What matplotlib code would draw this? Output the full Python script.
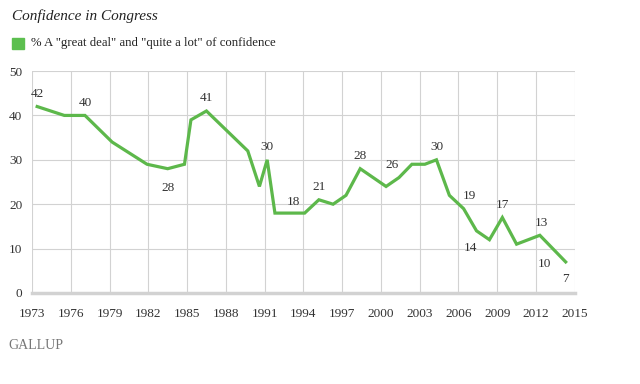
import matplotlib
matplotlib.use("Agg")
import matplotlib.pyplot as plt
from matplotlib.patches import Rectangle

# survey dates (fractional year) and % great deal / quite a lot
years = [1973.4, 1975.5, 1977.1, 1979.2, 1981.9, 1983.5, 1984.8, 1985.3,
         1986.5, 1989.7, 1990.6, 1991.2, 1991.8, 1993.2, 1994.1, 1995.2,
         1996.3, 1997.3, 1998.4, 2000.4, 2001.4, 2002.4, 2003.4, 2004.3,
         2005.3, 2006.4, 2007.4, 2008.4, 2009.4, 2010.5, 2011.4, 2012.3,
         2013.3, 2014.3]
values = [42, 40, 40, 34, 29, 28, 29, 39, 41, 32, 24, 30, 18, 18, 18, 21,
          20, 22, 28, 24, 26, 29, 29, 30, 22, 19, 14, 12, 17, 11, 12, 13,
          10, 7]

# labelled points: index into the series, offset in points
lab_idx = [0, 2, 5, 8, 11, 13, 15, 18, 20, 23, 25, 26, 28, 31, 32, 33]
lab_off = [(0, 9), (0, 9), (0, -14), (0, 9), (0, 9), (0, 8), (0, 9), (0, 9),
           (-5, 9), (0, 9), (4, 9), (-4, -12), (0, 9), (1, 9), (-6, -11),
           (0, -12)]

xticks = list(range(1973, 2016, 3))
yticks = [0, 10, 20, 30, 40, 50]

green = '#5DB84B'
txt = '#333333'
serif = ['Liberation Serif', 'DejaVu Serif']

fig = plt.figure(figsize=(6.4, 3.84), dpi=100)
ax = fig.add_axes([0.05, 0.237, 0.848, 0.578])

ax.plot(years, values, color=green, lw=2.3, solid_joinstyle='miter', zorder=3)

for i, (dx, dy) in zip(lab_idx, lab_off):
    ax.annotate(str(values[i]), (years[i], values[i]), xytext=(dx, dy),
                textcoords='offset points', ha='center', va='center',
                fontsize=9.5, family=serif, color=txt)

ax.set_xlim(1973, 2015)
ax.set_ylim(0, 50)
ax.set_xticks(xticks)
ax.set_yticks(yticks)
ax.set_xticklabels([str(t) for t in xticks], family=serif, fontsize=9.5, color=txt)
ax.set_yticklabels([str(t) for t in yticks], family=serif, fontsize=9.5, color=txt)
ax.tick_params(length=0)
ax.tick_params(axis='x', pad=11)
ax.tick_params(axis='y', pad=7)
ax.grid(True, color='#d2d2d2', lw=0.8)
ax.set_axisbelow(True)
for s in ax.spines.values():
    s.set_visible(False)
ax.axhline(0, color='#d2d2d2', lw=2.5, zorder=2, clip_on=False)

fig.text(0.019, 0.958, 'Confidence in Congress', family=serif, style='italic',
         fontsize=11, color='#222222', va='center')
fig.patches.append(Rectangle((0.019, 0.872), 0.018, 0.03, transform=fig.transFigure,
                             color='#5CBF4F'))
fig.text(0.048, 0.887, '% A "great deal" and "quite a lot" of confidence',
         family=serif, fontsize=9.2, color='#222222', va='center')
fig.text(0.013, 0.1, 'GALLUP', family=serif, fontsize=10, color='#777777',
         va='center')

fig.savefig('out.png', dpi=100)
